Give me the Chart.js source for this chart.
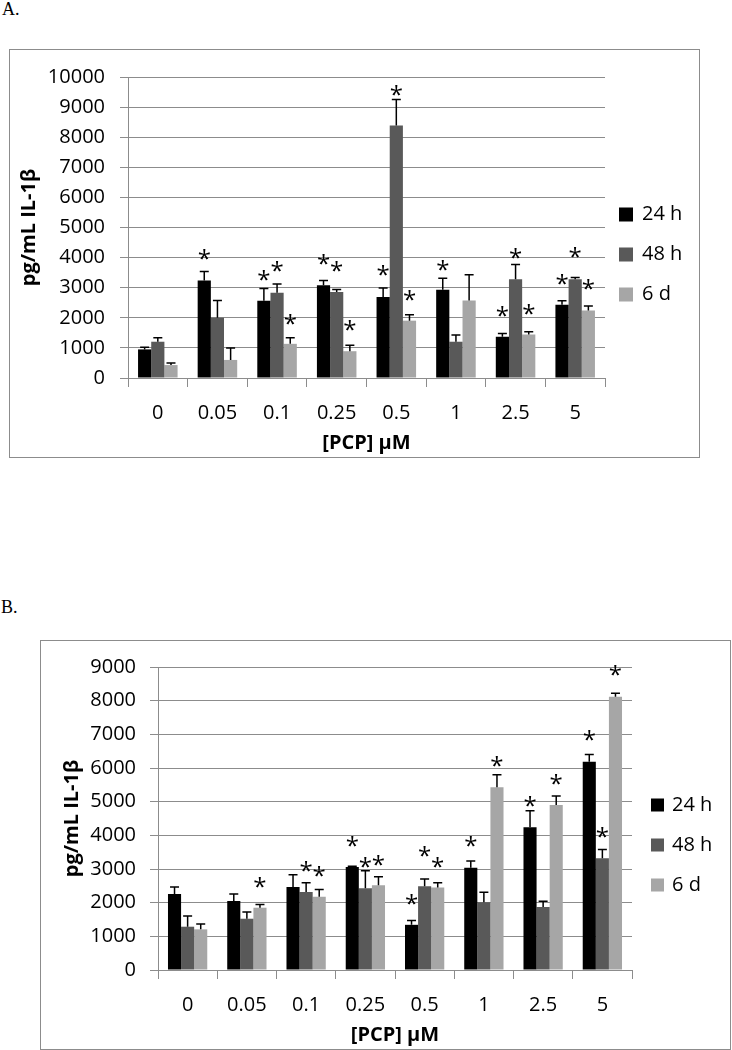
<!DOCTYPE html>
<html lang="en">
<head>
<meta charset="UTF-8">
<title>IL-1β release after PCP exposure</title>
<script src="https://cdn.jsdelivr.net/npm/chart.js"></script>
<style>
body {
  margin: 0;
  background: #fff;
  width: 732px;
  height: 1050px;
  position: relative;
  overflow: hidden;
}
.panel {
  position: absolute;
  font-family: 'Liberation Serif', 'Times New Roman', serif;
  font-size: 18px;
  line-height: 20px;
  color: #000;
}
.frame {
  position: absolute;
  border: 1px solid #8c8c8c;
}
.frame canvas {
  display: block;
}
</style>
</head>
<body>
<div class="panel" style="left:2px;top:-1px">A.</div>
<div class="frame" style="left:9px;top:49px;width:689px;height:407px">
  <canvas id="chartA" width="689" height="407"></canvas>
</div>
<div class="panel" style="left:1px;top:597px">B.</div>
<div class="frame" style="left:40px;top:640px;width:689px;height:408px">
  <canvas id="chartB" width="689" height="408"></canvas>
</div>

<script>
// categories and series
const doses = ['0', '0.05', '0.1', '0.25', '0.5', '1', '2.5', '5'];
const seriesNames = ['24 h', '48 h', '6 d'];
const seriesColors = ['#000000', '#595959', '#a6a6a6'];

// panel A: mean, upper error, y of the asterisk (null = none)
const a24 = [950, 3240, 2565, 3080, 2690, 2930, 1370, 2435];
const a24Err = [70, 300, 410, 160, 300, 385, 110, 135];
const a24Star = [null, 4110, 3420, 3940, 3555, 3750, 2200, 3280];
const a48 = [1205, 2005, 2830, 2860, 8390, 1205, 3280, 3280];
const a48Err = [130, 570, 290, 80, 860, 220, 490, 55];
const a48Star = [null, null, 3690, 3700, 9560, null, 4130, 4155];
const a6d = [430, 600, 1135, 890, 1905, 2575, 1445, 2245];
const a6dErr = [65, 400, 200, 200, 195, 855, 90, 150];
const a6dStar = [null, null, 1955, 1735, 2740, null, 2270, 3090];
const yMaxA = 10000;

// panel B
const b24 = [2255, 2047, 2463, 3060, 1342, 3035, 4243, 6188];
const b24Err = [208, 208, 366, 20, 125, 205, 490, 210];
const b24Star = [null, null, null, 3810, 2090, 3810, 5010, 6960];
const b48 = [1286, 1523, 2315, 2425, 2485, 2010, 1871, 3322];
const b48Err = [316, 198, 277, 525, 220, 300, 168, 255];
const b48Star = [null, null, 3066, 3180, 3530, null, null, 4095];
const b6d = [1207, 1850, 2176, 2515, 2450, 5430, 4900, 8114];
const b6dErr = [158, 99, 218, 258, 140, 372, 272, 105];
const b6dStar = [null, 2611, 2918, 3254, 3195, 6190, 5655, 8910];
const yMaxB = 9000;

const yStep = 1000;
const yTitle = 'pg/mL IL-1β';
const xTitle = '[PCP] µM';

Chart.defaults.font.family = "'Open Sans', 'Liberation Sans', sans-serif";
Chart.defaults.color = '#000';

const gridGray = '#8c8c8c';

// error bars, asterisks and the legend on the right
const extrasPlugin = {
  id: 'extras',
  afterDatasetsDraw(chart, args, opts) {
    const ctx = chart.ctx;
    const yScale = chart.scales.y;
    ctx.save();
    chart.data.datasets.forEach(function(ds, i) {
      const meta = chart.getDatasetMeta(i);
      meta.data.forEach(function(bar, j) {
        const top = yScale.getPixelForValue(ds.data[j] + ds.errors[j]);
        ctx.strokeStyle = '#000';
        ctx.lineWidth = 1.5;
        ctx.beginPath();
        ctx.moveTo(bar.x, bar.y);
        ctx.lineTo(bar.x, top);
        ctx.moveTo(bar.x - 4.5, top);
        ctx.lineTo(bar.x + 4.5, top);
        ctx.stroke();

        if (ds.stars[j] != null) {
          ctx.font = "24px 'Open Sans', sans-serif";
          ctx.fillStyle = '#000';
          ctx.textAlign = 'center';
          ctx.textBaseline = 'alphabetic';
          const m = ctx.measureText('*');
          const cy = yScale.getPixelForValue(ds.stars[j]);
          ctx.fillText('*', bar.x, cy + (m.actualBoundingBoxAscent - m.actualBoundingBoxDescent) / 2);
        }
      });
    });

    // legend
    const area = chart.chartArea;
    const mid = (area.top + area.bottom) / 2 + opts.midDy;
    ctx.font = "20px 'Open Sans', sans-serif";
    ctx.textAlign = 'left';
    ctx.textBaseline = 'middle';
    chart.data.datasets.forEach(function(ds, i) {
      const cy = mid + (i - 1) * opts.gap;
      ctx.fillStyle = ds.backgroundColor;
      ctx.fillRect(area.right + opts.boxX, cy - opts.box / 2, opts.box, opts.box);
      ctx.fillStyle = '#000';
      ctx.fillText(ds.label, area.right + opts.textX, cy);
    });
    ctx.restore();
  }
};

function makeChart(id, s24, s48, s6d, e24, e48, e6d, st24, st48, st6d, yMax, lay) {
  const sets = [[s24, e24, st24], [s48, e48, st48], [s6d, e6d, st6d]];
  return new Chart(document.getElementById(id), {
    type: 'bar',
    data: {
      labels: doses,
      datasets: sets.map(function(s, i) {
        return {
          label: seriesNames[i],
          data: s[0],
          errors: s[1],
          stars: s[2],
          backgroundColor: seriesColors[i],
          borderWidth: 0,
          barPercentage: 1,
          categoryPercentage: 0.663
        };
      })
    },
    options: {
      responsive: false,
      animation: false,
      devicePixelRatio: 1,
      layout: { padding: { left: 0, top: lay.top, right: lay.right, bottom: 0 } },
      plugins: {
        legend: { display: false },
        tooltip: { enabled: false },
        extras: lay.legend
      },
      scales: {
        x: {
          grid: { drawOnChartArea: false, drawTicks: true, tickLength: 9, color: gridGray, offset: true },
          border: { color: gridGray },
          ticks: { font: { size: 20, lineHeight: 1.2 }, padding: 14, maxRotation: 0 },
          title: { display: true, text: xTitle, font: { size: 20, weight: 'bold', lineHeight: 1.2 }, padding: { top: 0, bottom: 2 } },
          afterFit: function(scale) { scale.height = lay.xHeight; }
        },
        y: {
          min: 0,
          max: yMax,
          grid: { color: gridGray, tickLength: 8, tickColor: gridGray },
          border: { color: gridGray },
          ticks: {
            stepSize: yStep,
            font: { size: 20, lineHeight: 1.2 },
            padding: lay.yPad,
            callback: function(v) { return String(v); }
          },
          title: { display: true, text: yTitle, font: { size: 20, weight: 'bold', lineHeight: 1.2 }, padding: { top: lay.yTitlePad, bottom: 0 } },
          afterFit: function(scale) { scale.width = lay.yWidth; }
        }
      }
    },
    plugins: [extrasPlugin]
  });
}

makeChart('chartA', a24, a48, a6d, a24Err, a48Err, a6dErr, a24Star, a48Star, a6dStar, yMaxA, {
  top: 24, right: 94, xHeight: 79, yWidth: 118, yPad: 15, yTitlePad: 7,
  legend: { boxX: 14, textX: 37, midDy: 27, gap: 40, box: 14 }
});

makeChart('chartB', b24, b48, b6d, b24Err, b48Err, b6dErr, b24Star, b48Star, b6dStar, yMaxB, {
  top: 26, right: 98, xHeight: 79, yWidth: 117, yPad: 14, yTitlePad: 19,
  legend: { boxX: 19, textX: 40, midDy: 26.5, gap: 40, box: 13 }
});
</script>
</body>
</html>
